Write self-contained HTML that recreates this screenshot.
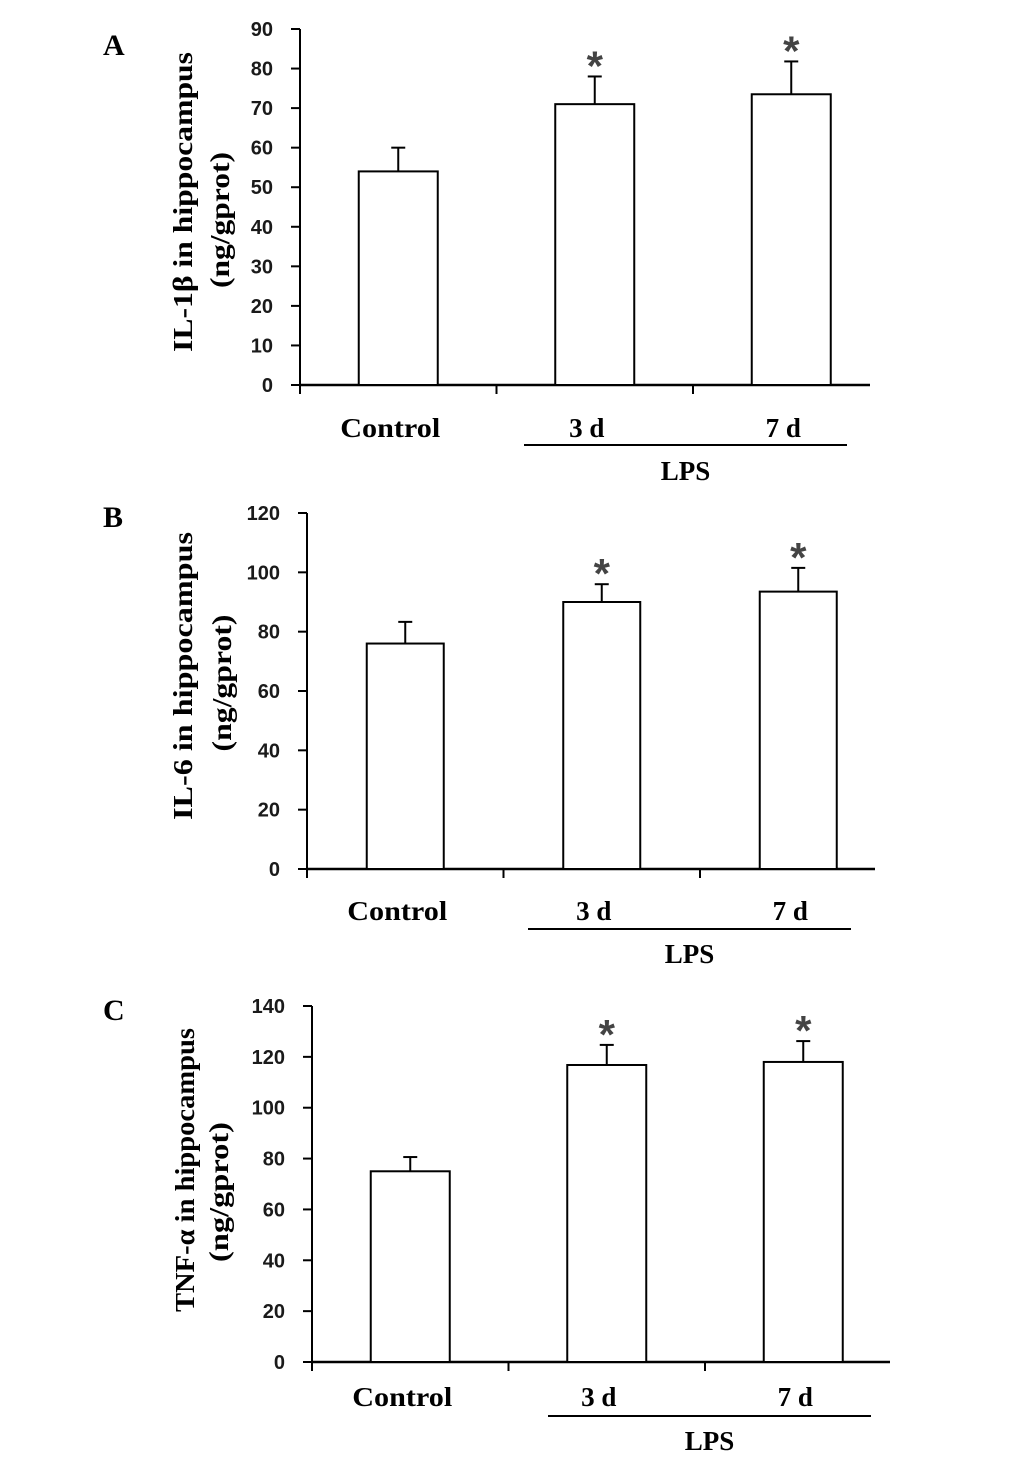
<!DOCTYPE html>
<html><head><meta charset="utf-8"><style>
html,body{margin:0;padding:0;background:#fff;}
svg{display:block;}
.tick{font-family:"Liberation Sans",sans-serif;font-size:20px;font-weight:bold;fill:#1a1a1a;}
.ser{font-family:"Liberation Serif",serif;font-weight:bold;fill:#000;}
</style></head><body>
<svg id="fig" width="1033" height="1460" viewBox="0 0 1033 1460" xmlns="http://www.w3.org/2000/svg"></svg>
<script>
const categories = ["Control", "3 d", "7 d"];
const valuesA = [54, 71, 73.5];
const errorsA = [60, 78, 81.8];
const valuesB = [76, 90, 93.5];
const errorsB = [83.3, 96, 101.5];
const valuesC = [75, 116.8, 118];
const errorsC = [80.6, 124.7, 126.2];
const ticksA = [0, 10, 20, 30, 40, 50, 60, 70, 80, 90];
const ticksB = [0, 20, 40, 60, 80, 100, 120];
const ticksC = [0, 20, 40, 60, 80, 100, 120, 140];
const significant = [false, true, true];

const NS = "http://www.w3.org/2000/svg";
const svg = document.getElementById("fig");
function mk(tag, attrs, parent, text) {
  const e = document.createElementNS(NS, tag);
  for (const k in attrs) e.setAttribute(k, attrs[k]);
  if (text !== undefined) e.textContent = text;
  (parent || svg).appendChild(e);
  return e;
}

const panels = [
  {key:"a", letter:"A", ly:45, title1:"IL-1\u03b2 in hippocampus", title2:"(ng/gprot)",
   ax:300, y0:385, yTop:29, max:90, xEnd:870, catW:196.5, barW:79,
   t1x:182, t2x:219, t1c:202, t2c:220, t1len:300, t2len:136, labY:427, lpsLineY:445, lpsY:470, lpsX1:524, lpsX2:847,
   vals:valuesA, errs:errorsA, ticks:ticksA},
  {key:"b", letter:"B", ly:517, title1:"IL-6 in hippocampus", title2:"(ng/gprot)",
   ax:307, y0:869, yTop:513, max:120, xEnd:875, catW:196.5, barW:77,
   t1x:182, t2x:221, t1c:676, t2c:683, t1len:288, t2len:137, labY:910, lpsLineY:929, lpsY:953, lpsX1:528, lpsX2:851,
   vals:valuesB, errs:errorsB, ticks:ticksB},
  {key:"c", letter:"C", ly:1010, title1:"TNF-\u03b1 in hippocampus", title2:"(ng/gprot)",
   ax:312, y0:1362, yTop:1006, max:140, xEnd:890, catW:196.5, barW:79,
   t1x:184, t2x:218, t1c:1170, t2c:1192, t1len:284, t2len:140, labY:1396, lpsLineY:1416, lpsY:1440, lpsX1:548, lpsX2:871,
   vals:valuesC, errs:errorsC, ticks:ticksC}
];

panels.forEach(p => {
  const g = mk("g", {});
  
  
  const yS = v => p.y0 - (v / p.max) * (p.y0 - p.yTop);
  const xC = i => p.ax + p.catW * (i + 0.5);

  const L = mk("text", {x:103, y:p.ly + 10, "font-size":30, class:"ser"}, g, p.letter);
  
  

  const yt = mk("g", {transform:`rotate(-90)`}, g);
  
  
  mk("text", {x:-p.t1c, y:p.t1x + 10, "font-size":27, class:"ser", "text-anchor":"middle", textLength:p.t1len, lengthAdjust:"spacingAndGlyphs"}, yt, p.title1);
  mk("text", {x:-p.t2c, y:p.t2x + 10, "font-size":27, class:"ser", "text-anchor":"middle", textLength:p.t2len, lengthAdjust:"spacingAndGlyphs"}, yt, p.title2);

  const ya = mk("line", {x1:p.ax, y1:yS(p.max), x2:p.ax, y2:p.y0, stroke:"#000", "stroke-width":2}, g);
  
  
  p.ticks.forEach(t => {
    mk("line", {x1:p.ax - 9, y1:yS(t), x2:p.ax, y2:yS(t), stroke:"#000", "stroke-width":2}, g);
    const tl = mk("text", {x:p.ax - 27, y:yS(t) + 7, class:"tick", "text-anchor":"end"}, g, t);
    
    
  });

  const xa = mk("line", {x1:p.ax, y1:p.y0, x2:p.xEnd, y2:p.y0, stroke:"#000", "stroke-width":2.5}, g);
  
  
  for (let i = 0; i < categories.length; i++) {
    const tx = p.ax + p.catW * i;
    mk("line", {x1:tx, y1:p.y0, x2:tx, y2:p.y0 + 9, stroke:"#000", "stroke-width":2}, g);
  }

  categories.forEach((c, i) => {
    const cx = xC(i);
    const top = yS(p.vals[i]);
    const eTop = yS(p.errs[i]);
    const eb = mk("line", {x1:cx, y1:top, x2:cx, y2:eTop, stroke:"#000", "stroke-width":2}, g);
    
    
    mk("line", {x1:cx - 7, y1:eTop, x2:cx + 7, y2:eTop, stroke:"#000", "stroke-width":2}, g);
    const bar = mk("rect", {x:cx - p.barW / 2, y:top, width:p.barW, height:p.y0 - top, fill:"#fff", stroke:"#000", "stroke-width":2}, g);
    
    
    if (significant[i]) {
      const st = mk("text", {x:cx, y:eTop + 4, "font-size":42, "font-weight":"bold", "text-anchor":"middle", fill:"#444", "font-family":"Liberation Sans, sans-serif"}, g, "*");
      
      
    }
    const la = {x:cx - 8, y:p.labY + 10, "font-size":27, class:"ser", "text-anchor":"middle"};
    if (i === 0) { la.textLength = 100; la.lengthAdjust = "spacingAndGlyphs"; }
    const lab = mk("text", la, g, c);
    
    
  });

  const ll = mk("line", {x1:p.lpsX1, y1:p.lpsLineY, x2:p.lpsX2, y2:p.lpsLineY, stroke:"#000", "stroke-width":2}, g);
  
  
  const lt = mk("text", {x:(p.lpsX1 + p.lpsX2) / 2, y:p.lpsY + 10, "font-size":27, class:"ser", "text-anchor":"middle"}, g, "LPS");
  
  
});
</script>
</body></html>
